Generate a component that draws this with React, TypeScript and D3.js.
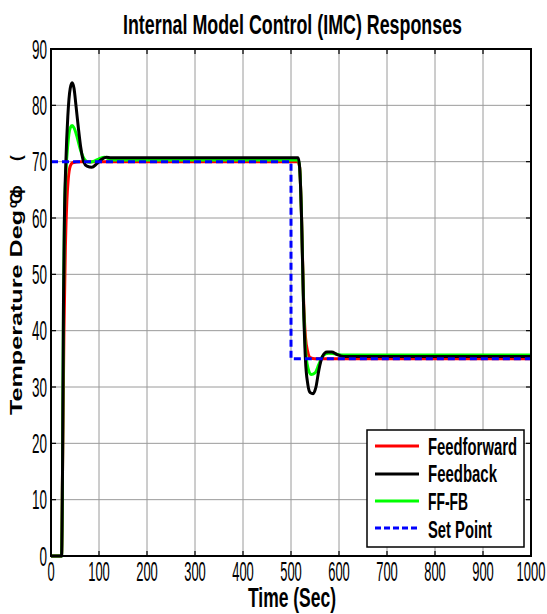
import React from "react";
import * as d3 from "d3";

const xTicks = [0, 100, 200, 300, 400, 500, 600, 700, 800, 900, 1000];
const yTicks = [0, 10, 20, 30, 40, 50, 60, 70, 80, 90];

const ffT = [0, 22, 24, 27, 30, 33, 36, 40, 45, 60, 515, 518, 522, 526, 530, 535, 540, 550, 1000];
const ffV = [0, 0, 15, 40, 55, 63, 67, 69.2, 69.8, 70, 70, 69, 60, 46, 39, 36.2, 35.2, 35, 35];

const fbT = [0, 22, 24, 26, 28, 31, 35, 40, 44, 48, 52, 57, 62, 68, 75, 85, 95, 105, 115, 125, 515, 518, 522, 526, 530, 535, 540, 546, 552, 558, 565, 575, 585, 595, 610, 1000];
const fbV = [0, 0, 15, 45, 60, 70, 78, 83, 84, 83, 80, 76, 72.5, 70, 69.2, 69.0, 69.6, 70.4, 70.8, 70.7, 70.7, 69, 60, 45, 35, 30.5, 29, 28.8, 30, 33, 35.3, 36.2, 36.2, 35.8, 35.4, 35.4];

const fffbT = [0, 22, 24, 26, 28, 31, 35, 40, 44, 48, 54, 60, 66, 72, 80, 90, 100, 112, 125, 515, 518, 522, 526, 530, 535, 542, 550, 558, 566, 578, 590, 605, 1000];
const fffbV = [0, 0, 15, 45, 60, 68, 73, 76, 76.4, 76, 74.5, 72.5, 71, 70.2, 69.9, 70.1, 70.5, 70.8, 70.3, 70.3, 69, 60, 45, 37, 33.5, 32.2, 32.5, 34, 35.5, 36, 35.9, 35.7, 35.7];

const spT = [0, 500, 500, 1000];
const spV = [70, 70, 35, 35];

const legendLabels = ["Feedforward", "Feedback", "FF-FB", "Set Point"];
const legendWidths = [89, 69, 40, 64];

const L = 51, R = 531, T = 49, B = 556;

export default function App() {
  const x = d3.scaleLinear().domain([0, 1000]).range([L, R]);
  const y = d3.scaleLinear().domain([0, 90]).range([B, T]);
  const mk = (ts: number[], vs: number[], curve = true) => {
    const pts = ts.map((t, i) => [t, vs[i]] as [number, number]);
    const g = d3.line<[number, number]>().x(d => x(d[0])).y(d => y(d[1]));
    if (curve) g.curve(d3.curveMonotoneX);
    return g(pts) || "";
  };
  const narrow = "'Liberation Sans Narrow', 'Liberation Sans', Arial, sans-serif";
  const sans = "'Liberation Sans', Arial, sans-serif";
  const series = [
    { d: mk(ffT, ffV), c: "#ff0000" },
    { d: mk(fffbT, fffbV), c: "#00ff00" },
    { d: mk(fbT, fbV), c: "#000000" },
  ];
  const legendColors = ["#ff0000", "#000000", "#00ff00", "#0000ff"];
  const lineYs = [446, 474, 501, 528];
  const baseYs = [455, 482, 510, 538];
  return (
    <svg width={547} height={614} style={{ position: "fixed", left: 0, top: 0, background: "#fff" }}>
      <rect x={0} y={0} width={547} height={614} fill="#fff" />
      {xTicks.map(t => (
        <line key={"gx" + t} x1={x(t)} x2={x(t)} y1={T} y2={B} stroke="#9a9a9a" strokeWidth={1} />
      ))}
      {yTicks.map(t => (
        <line key={"gy" + t} x1={L} x2={R} y1={y(t)} y2={y(t)} stroke="#9a9a9a" strokeWidth={1} />
      ))}
      {xTicks.map(t => (
        <g key={"tx" + t}>
          <line x1={x(t)} x2={x(t)} y1={B} y2={B - 5} stroke="#000" strokeWidth={1.2} />
          <line x1={x(t)} x2={x(t)} y1={T} y2={T + 5} stroke="#000" strokeWidth={1.2} />
        </g>
      ))}
      {yTicks.map(t => (
        <g key={"ty" + t}>
          <line x1={L} x2={L + 5} y1={y(t)} y2={y(t)} stroke="#000" strokeWidth={1.2} />
          <line x1={R} x2={R - 5} y1={y(t)} y2={y(t)} stroke="#000" strokeWidth={1.2} />
        </g>
      ))}
      {series.map((s, i) => (
        <path key={i} d={s.d} fill="none" stroke={s.c} strokeWidth={3} strokeLinejoin="round" />
      ))}
      <path d={mk(spT, spV, false)} fill="none" stroke="#0000ff" strokeWidth={3} strokeDasharray="7,4" />
      <rect x={L} y={T} width={R - L} height={B - T} fill="none" stroke="#000" strokeWidth={2} />
      {xTicks.map(t => (
        <text key={"lx" + t} x={x(t)} y={581} textAnchor="middle" fontFamily={narrow} fontSize={27}
          textLength={String(t).length * 7.2} lengthAdjust="spacingAndGlyphs">{t}</text>
      ))}
      {yTicks.map(t => (
        <text key={"ly" + t} x={47} y={y(t) + 9.5} textAnchor="end" fontFamily={narrow} fontSize={27}
          textLength={String(t).length * 7.5} lengthAdjust="spacingAndGlyphs">{t}</text>
      ))}
      <text x={123} y={34} fontFamily={narrow} fontWeight="bold" fontSize={28} textLength={339}
        lengthAdjust="spacingAndGlyphs">Internal Model Control (IMC) Responses</text>
      <text x={248} y={607} fontFamily={narrow} fontWeight="bold" fontSize={28} textLength={88}
        lengthAdjust="spacingAndGlyphs">Time (Sec)</text>
      <g transform="translate(22,415) rotate(-90)">
        <text x={0} y={0} fontFamily={sans} fontWeight="bold" fontSize={17} textLength={205}
          lengthAdjust="spacingAndGlyphs">Temperature  Deg</text>
        <text x={207} y={-5} fontFamily={sans} fontWeight="bold" fontSize={12}>o</text>
        <text x={211} y={0} fontFamily={sans} fontWeight="bold" fontSize={17}>C</text>
        <text x={217} y={0} fontFamily={sans} fontWeight="bold" fontSize={17}>ɸ</text>
        <text x={254} y={0} fontFamily={sans} fontWeight="bold" fontSize={17}>(</text>
      </g>
      <rect x={367} y={430} width={157} height={117} fill="#fff" stroke="#000" strokeWidth={1.5} />
      {legendLabels.map((lab, i) => (
        <g key={lab}>
          <line x1={375} x2={419} y1={lineYs[i]} y2={lineYs[i]} stroke={legendColors[i]} strokeWidth={3}
            strokeDasharray={i === 3 ? "6,3" : undefined} />
          <text x={428} y={baseYs[i]} fontFamily={narrow} fontWeight="bold" fontSize={24}
            textLength={legendWidths[i]} lengthAdjust="spacingAndGlyphs">{lab}</text>
        </g>
      ))}
    </svg>
  );
}
